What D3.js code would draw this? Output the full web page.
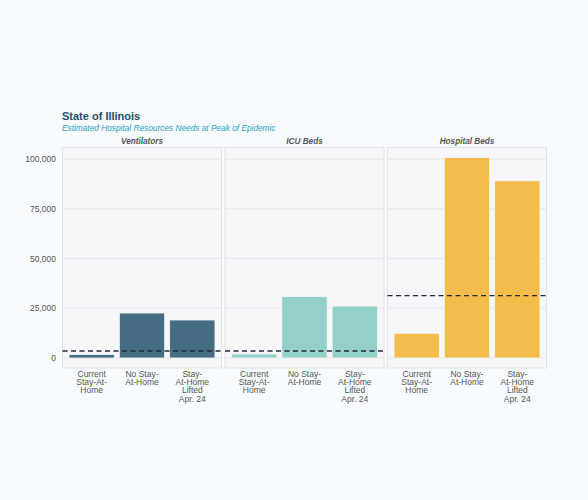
<!DOCTYPE html>
<html>
<head>
<meta charset="utf-8">
<script src="https://cdn.jsdelivr.net/npm/d3@7"></script>
<style>
  html, body { margin: 0; padding: 0; background: #f7fbfd; }
  svg { display: block; font-family: "Liberation Sans", Arial, sans-serif; }
</style>
</head>
<body>
<div id="chart"></div>
<script>
// data
const resources = ['Ventilators', 'ICU Beds', 'Hospital Beds'];
const scenarios = ['current', 'noStay', 'lifted'];
const scenarioLabels = [['Current', 'Stay-At-', 'Home'], ['No Stay-', 'At-Home'], ['Stay-', 'At-Home', 'Lifted', 'Apr. 24']];
const ventilators = [1700, 22600, 19100];
const icuBeds = [2000, 30900, 26100];
const hospitalBeds = [12400, 100800, 89100];
const capacity = [3500, 3500, 31400];
const yTicks = [0, 25000, 50000, 75000, 100000];
const colors = ['#466c81', '#93d0ca', '#f3bd4b'];

const series = [ventilators, icuBeds, hospitalBeds];

const width = 588, height = 500;
const margin = {t: 147.5, r: 41.5, b: 132, l: 62.5};
const panelGap = 3.5;
const plotW = width - margin.l - margin.r;
const panelW = (plotW - 2 * panelGap) / 3;
const plotH = height - margin.t - margin.b;

const svg = d3.select('#chart').append('svg').attr('width', width).attr('height', height);
svg.append('rect').attr('width', width).attr('height', height).attr('fill', '#f7fbfd');

//titles
svg.append('text').attr('x', 62).attr('y', 119.5).text('State of Illinois')
   .style('font-size', '11px').style('font-weight', 'bold').attr('fill', '#1d4f6c');
svg.append('text').attr('x', 62).attr('y', 130.5).text('Estimated Hospital Resources Needs at Peak of Epidemic')
   .style('font-size', '8.3px').style('font-style', 'italic').attr('fill', '#2aa0bd');

//scales
const maxVal = d3.max(series.flat());
const yScale = d3.scaleLinear().domain([-0.05 * maxVal, maxVal * 1.05]).range([plotH, 0]);
const xScale = d3.scaleBand().domain(scenarios).range([0, panelW]).paddingInner(0.1).paddingOuter(0.13);

const mainG = svg.append('g').attr('transform', `translate(${margin.l},${margin.t})`);

//y axis labels
mainG.append('g').attr('class', 'y-axis')
   .call(d3.axisLeft(yScale).tickValues(yTicks).tickFormat(d3.format(',')).tickSize(0).tickPadding(6.5))
   .call(g => g.select('.domain').remove())
   .call(g => g.selectAll('text').style('font-size', '8.5px').attr('fill', '#555').style('font-family', '"Liberation Sans", Arial, sans-serif'));

resources.forEach((name, i) => {
   const g = mainG.append('g').attr('transform', `translate(${i * (panelW + panelGap)},0)`);

   g.append('rect').attr('width', panelW).attr('height', plotH)
      .attr('fill', '#f7f7f9').attr('stroke', '#e2e2e6').attr('stroke-width', 1);

   g.append('g').selectAll('.grid').data(yTicks).join('line')
      .attr('x1', 0).attr('x2', panelW)
      .attr('y1', d => yScale(d)).attr('y2', d => yScale(d))
      .attr('stroke', '#e6e6ea').attr('stroke-width', 1);

   g.append('text').attr('x', panelW / 2).attr('y', -4).attr('text-anchor', 'middle')
      .text(name).style('font-size', '8.2px').style('font-weight', 'bold').style('font-style', 'italic').attr('fill', '#555');

   g.append('g').selectAll('.bar').data(series[i]).join('rect')
      .attr('x', (d, j) => xScale(scenarios[j]))
      .attr('width', xScale.bandwidth())
      .attr('y', d => yScale(d))
      .attr('height', d => yScale(0) - yScale(d))
      .attr('fill', colors[i]).attr('stroke', '#f2f4f6').attr('stroke-width', 0.8);

   g.append('line')
      .attr('x1', 0).attr('x2', panelW)
      .attr('y1', yScale(capacity[i])).attr('y2', yScale(capacity[i]))
      .attr('stroke', '#1f2b38').attr('stroke-width', 1.3).attr('stroke-dasharray', '5 3.5');

   //x labels
   const lab = g.append('g').attr('transform', `translate(0,${plotH})`);
   scenarioLabels.forEach((lines, j) => {
      const t = lab.append('text').attr('text-anchor', 'middle')
         .attr('x', xScale(scenarios[j]) + xScale.bandwidth() / 2)
         .attr('y', 8.8).style('font-size', '8.5px').attr('fill', '#555');
      lines.forEach((l, k) => {
         t.append('tspan').attr('x', xScale(scenarios[j]) + xScale.bandwidth() / 2)
            .attr('dy', k === 0 ? 0 : 8.3).text(l);
      });
   });
});
</script>
</body>
</html>
